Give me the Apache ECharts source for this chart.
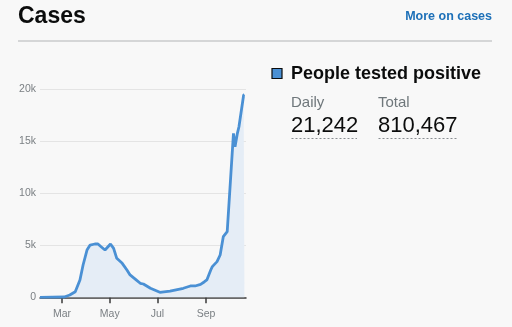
<!DOCTYPE html>
<html>
<head>
<meta charset="utf-8">
<script src="https://cdn.jsdelivr.net/npm/echarts@6/dist/echarts.min.js"></script>
<style>
html,body{margin:0;padding:0;background:#f8f8f8;}
#c{width:512px;height:327px;}
</style>
</head>
<body>
<div id="c"></div>
<script>
// ---- data ----
const dates = ['2020-02-02','2020-03-04','2020-03-11','2020-03-18','2020-03-24','2020-03-28','2020-04-02','2020-04-06','2020-04-12','2020-04-16','2020-04-20','2020-04-25','2020-04-27','2020-05-02','2020-05-06','2020-05-10','2020-05-17','2020-05-23','2020-05-27','2020-06-03','2020-06-09','2020-06-13','2020-06-22','2020-07-04','2020-07-17','2020-08-03','2020-08-12','2020-08-18','2020-08-25','2020-08-30','2020-09-02','2020-09-07','2020-09-09','2020-09-15','2020-09-19','2020-09-23','2020-09-28','2020-09-30','2020-10-06','2020-10-08','2020-10-11','2020-10-13','2020-10-19','2020-10-20'];
const cases = [0,30,220,540,1670,3110,4550,5030,5130,5130,4870,4550,4710,5130,4710,3750,3270,2630,2150,1730,1350,1280,870,480,600,870,1090,1090,1250,1500,1670,2630,2950,3430,4070,5830,6310,6400,15780,14500,15780,16420,19470,19500];
const tickDates = ['2020-03-01','2020-05-01','2020-07-01','2020-09-01'];
const tickLabels = ['Mar','May','Jul','Sep'];
const yTicks = [0,5000,10000,15000,20000];
const yTickLabels = ['0','5k','10k','15k','20k'];
const axisStart = '2020-02-02';
const axisEnd = '2020-10-22';
const seriesName = 'People tested positive';
const dailyValue = '21,242';
const totalValue = '810,467';

const DAY = 86400000;
function utc(s){const p=s.split('-').map(Number);return Date.UTC(p[0],p[1]-1,p[2]);}
function dayIdx(s){return Math.round((utc(s)-utc(axisStart))/DAY);}
const tickIdx = tickDates.map(dayIdx);
const points = dates.map((d,i)=>[dayIdx(d),cases[i]]);

const FONT = '"Liberation Sans", Arial, sans-serif';
const chart = echarts.init(document.getElementById('c'), null, {renderer:'canvas'});
chart.setOption({
  backgroundColor:'#f8f8f8',
  animation:false,
  grid:{left:40,right:266,top:89.5,bottom:29.7,containLabel:false},
  xAxis:{
    type:'value', min:0, max:dayIdx(axisEnd),
    axisLine:{show:true,lineStyle:{color:'#3a3a3a',width:1.5}},
    axisTick:{show:true,customValues:tickIdx,length:6,lineStyle:{color:'#3a3a3a',width:1.5}},
    axisLabel:{customValues:tickIdx,margin:11,fontSize:10.5,color:'#7a7f83',fontFamily:FONT,
      formatter:function(v){const i=tickIdx.indexOf(Math.round(v));return i>=0?tickLabels[i]:'';}},
    splitLine:{show:false}
  },
  yAxis:{
    type:'value', min:0, max:20000, interval:5000,
    axisLine:{show:false}, axisTick:{show:false},
    axisLabel:{margin:4,fontSize:10.5,color:'#7a7f83',fontFamily:FONT,
      formatter:function(v){const i=yTicks.indexOf(v);return i>=0?yTickLabels[i]:'';}},
    splitLine:{show:true,lineStyle:{color:'#e4e4e4',width:1}}
  },
  series:[{
    type:'line', name:seriesName, data:points, showSymbol:false, smooth:false,
    lineStyle:{color:'#4a90d4',width:2.8},
    areaStyle:{color:'#e5edf6',opacity:1},
    z:3
  }],
  graphic:[
    {type:'text',left:18,top:5,style:{text:'Cases',font:'bold 23px '+FONT,fill:'#0b0c0c'}},
    {type:'text',right:20,top:10,style:{text:'More on cases',font:'bold 12.5px '+FONT,fill:'#1d70b8'}},
    {type:'line',shape:{x1:18,y1:41,x2:492,y2:41},style:{stroke:'#b1b4b6',lineWidth:1.2}},
    {type:'rect',shape:{x:272,y:68.5,width:10,height:10},style:{fill:'#4a90d4',stroke:'#0b0c0c',lineWidth:1.2}},
    {type:'text',left:291,top:65,style:{text:seriesName,font:'bold 18px '+FONT,fill:'#0b0c0c'}},
    {type:'text',left:291,top:95,style:{text:'Daily',font:'15px '+FONT,fill:'#6f777b'}},
    {type:'text',left:378,top:95,style:{text:'Total',font:'15px '+FONT,fill:'#6f777b'}},
    {type:'text',left:291,top:115,style:{text:dailyValue,font:'22px '+FONT,fill:'#0b0c0c'}},
    {type:'text',left:378,top:115,style:{text:totalValue,font:'22px '+FONT,fill:'#0b0c0c'}},
    {type:'line',shape:{x1:291.5,y1:138.5,x2:357,y2:138.5},style:{stroke:'#8a8f93',lineWidth:1,lineDash:[2,2]}},
    {type:'line',shape:{x1:378.5,y1:138.5,x2:458,y2:138.5},style:{stroke:'#8a8f93',lineWidth:1,lineDash:[2,2]}}
  ]
});
</script>
</body>
</html>
